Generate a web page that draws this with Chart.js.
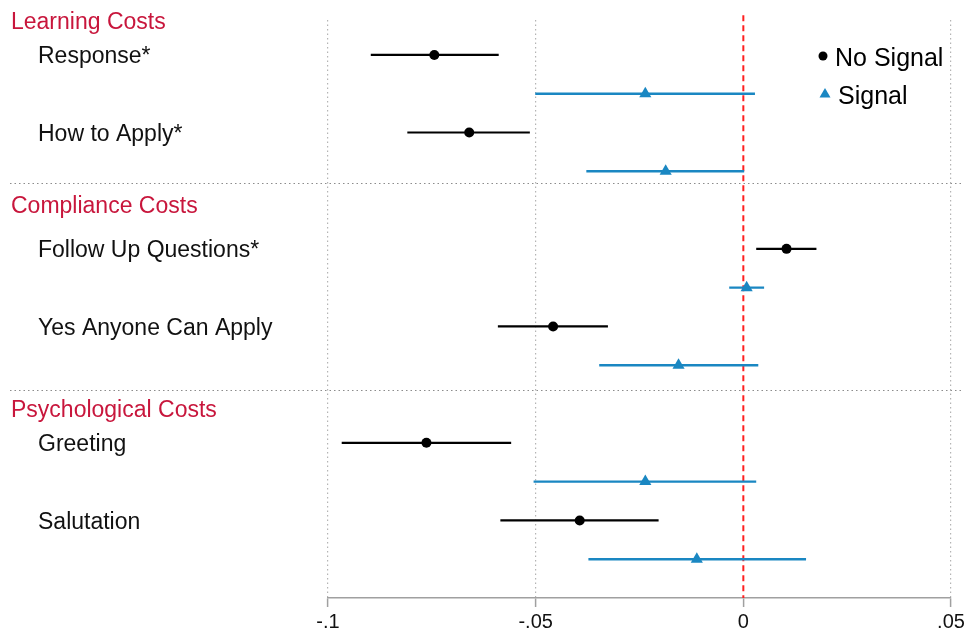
<!DOCTYPE html>
<html>
<head>
<meta charset="utf-8">
<script src="https://cdn.jsdelivr.net/npm/chart.js@4.4.1/dist/chart.umd.min.js"></script>
<style>
  html, body { margin: 0; padding: 0; background: #fff; }
  #wrap { width: 964px; height: 632px; }
</style>
</head>
<body>
<div id="wrap"><canvas id="coefChart" width="964" height="632"></canvas></div>
<script>
// rows (y in row units, Signal sits one row below its label)
const rowLabels = ["Response*", "How to Apply*", "Follow Up Questions*", "Yes Anyone Can Apply", "Greeting", "Salutation"];
const rowPos = [0, 2, 5, 7, 10, 12];
const groupNames = ["Learning Costs", "Compliance Costs", "Psychological Costs"];
const groupPos = [-0.88, 3.87, 9.12];
const dividerPos = [3.31, 8.63];

// estimates and 95% CIs
const noSignalEst = [-0.0744, -0.0660, 0.0104, -0.0458, -0.0763, -0.0394];
const noSignalLo  = [-0.0897, -0.0809, 0.0031, -0.0591, -0.0967, -0.0585];
const noSignalHi  = [-0.0589, -0.0514, 0.0176, -0.0326, -0.0559, -0.0204];
const signalEst = [-0.0236, -0.0187, 0.0008, -0.0156, -0.0236, -0.0112];
const signalLo  = [-0.0501, -0.0378, -0.0034, -0.0347, -0.0505, -0.0373];
const signalHi  = [0.0028, 0.0002, 0.0050, 0.0036, 0.0031, 0.0151];

const xMin = -0.1, xMax = 0.05, xStep = 0.05;
const yMin = -0.9, yMax = 14.0;

const BLACK = "#000000";
const BLUE = "#1a87c2";
const RED = "#ff2020";
const HEAD = "#c8163c";
const FONT = "'Liberation Sans', Arial, sans-serif";

function ciSegments(lo, hi, shift) {
  const out = [];
  lo.forEach((v, i) => {
    out.push({ x: v, y: rowPos[i] + shift });
    out.push({ x: hi[i], y: rowPos[i] + shift });
    out.push({ x: null, y: null });
  });
  return out;
}

function points(est, shift) {
  return est.map((v, i) => ({ x: v, y: rowPos[i] + shift }));
}

const textPlugin = {
  id: "textPlugin",
  afterDraw(chart) {
    const ctx = chart.ctx;
    const y = chart.scales.y;
    ctx.save();
    // dotted separators between groups
    ctx.strokeStyle = "#8c8c8c";
    ctx.lineWidth = 1.2;
    ctx.setLineDash([1.5, 3]);
    dividerPos.forEach(v => {
      const py = Math.round(y.getPixelForValue(v)) + 0.5;
      ctx.beginPath();
      ctx.moveTo(10, py);
      ctx.lineTo(962, py);
      ctx.stroke();
    });
    ctx.setLineDash([]);

    ctx.textBaseline = "middle";
    ctx.textAlign = "left";
    ctx.font = "23px " + FONT;
    ctx.fillStyle = HEAD;
    groupNames.forEach((g, i) => ctx.fillText(g, 11, y.getPixelForValue(groupPos[i]) + 2));
    ctx.fillStyle = "#111";
    rowLabels.forEach((r, i) => ctx.fillText(r, 38, y.getPixelForValue(rowPos[i]) + 2));

    // legend
    ctx.font = "25px " + FONT;
    ctx.fillStyle = BLACK;
    ctx.beginPath();
    ctx.arc(823, 56, 4.5, 0, Math.PI * 2);
    ctx.fill();
    ctx.fillText("No Signal", 835, 59);
    ctx.fillStyle = BLUE;
    ctx.beginPath();
    ctx.moveTo(825, 88);
    ctx.lineTo(830.5, 97.5);
    ctx.lineTo(819.5, 97.5);
    ctx.closePath();
    ctx.fill();
    ctx.fillStyle = BLACK;
    ctx.fillText("Signal", 838, 97);
    ctx.restore();
  }
};

new Chart(document.getElementById("coefChart"), {
  type: "scatter",
  data: {
    datasets: [
      {
        label: "zero",
        type: "line",
        data: [{ x: 0, y: yMin - 0.12 }, { x: 0, y: yMax }],
        borderColor: RED,
        borderWidth: 2,
        borderDash: [6, 4],
        pointRadius: 0,
        order: 5
      },
      {
        label: "No Signal CI",
        type: "line",
        data: ciSegments(noSignalLo, noSignalHi, 0),
        borderColor: BLACK,
        borderWidth: 2.2,
        pointRadius: 0,
        spanGaps: false,
        order: 4
      },
      {
        label: "Signal CI",
        type: "line",
        data: ciSegments(signalLo, signalHi, 1),
        borderColor: BLUE,
        borderWidth: 2.4,
        pointRadius: 0,
        spanGaps: false,
        order: 3
      },
      {
        label: "No Signal",
        data: points(noSignalEst, 0),
        pointStyle: "circle",
        pointRadius: 5,
        backgroundColor: BLACK,
        borderColor: BLACK,
        borderWidth: 0,
        order: 2
      },
      {
        label: "Signal",
        data: points(signalEst, 1),
        pointStyle: "triangle",
        pointRadius: 7,
        backgroundColor: BLUE,
        borderColor: BLUE,
        borderWidth: 0,
        order: 1
      }
    ]
  },
  options: {
    responsive: false,
    animation: false,
    clip: false,
    layout: { padding: { left: 328, right: 13, top: 20, bottom: 0 } },
    plugins: {
      legend: { display: false },
      tooltip: { enabled: false }
    },
    scales: {
      x: {
        type: "linear",
        min: xMin,
        max: xMax,
        afterFit(scale) {
          scale.height = 34;
          scale.paddingLeft = 0;
          scale.paddingRight = 0;
        },
        ticks: {
          stepSize: xStep,
          color: "#111",
          font: { family: FONT, size: 20 },
          padding: 3,
          maxRotation: 0,
          callback(v) {
            const r = Math.round(v * 100) / 100;
            return String(r).replace("0.", ".");
          }
        },
        grid: {
          color: ctx => (ctx.tick && Math.abs(ctx.tick.value) < 1e-9) ? "rgba(0,0,0,0)" : "#b4b4b4",
          lineWidth: 1.2,
          drawTicks: true,
          tickLength: 9,
          tickColor: "#a0a0a0",
          tickWidth: 1.5,
          tickBorderDash: []
        },
        border: { display: true, color: "#a0a0a0", width: 1.5, dash: [1.5, 3] }
      },
      y: {
        type: "linear",
        min: yMin,
        max: yMax,
        reverse: true,
        display: false
      }
    }
  },
  plugins: [textPlugin]
});
</script>
</body>
</html>
